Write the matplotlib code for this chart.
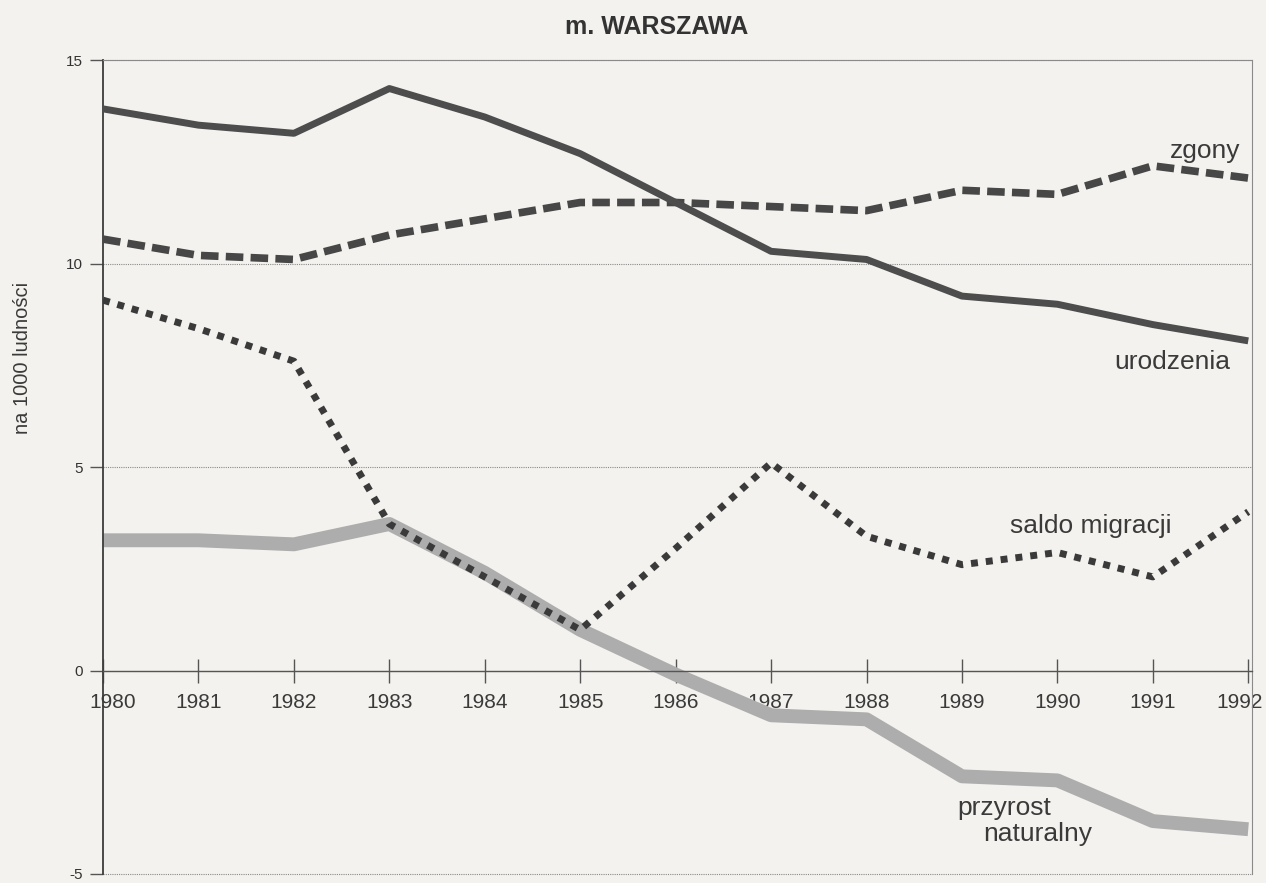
import numpy as np
import matplotlib
matplotlib.use('Agg')
import matplotlib.pyplot as plt
import matplotlib.transforms as mtransforms

plt.rcParams['font.family'] = ['Liberation Sans', 'DejaVu Sans']

years = [1980, 1981, 1982, 1983, 1984, 1985, 1986, 1987, 1988, 1989, 1990, 1991, 1992]
urodzenia = [13.8, 13.4, 13.2, 14.3, 13.6, 12.7, 11.5, 10.3, 10.1, 9.2, 9.0, 8.5, 8.1]
zgony = [10.6, 10.2, 10.1, 10.7, 11.1, 11.5, 11.5, 11.4, 11.3, 11.8, 11.7, 12.4, 12.1]
saldo_migracji = [9.1, 8.4, 7.6, 3.6, 2.3, 1.0, 3.0, 5.1, 3.3, 2.6, 2.9, 2.3, 3.9]
przyrost = [3.2, 3.2, 3.1, 3.6, 2.4, 1.0, -0.1, -1.1, -1.2, -2.6, -2.7, -3.7, -3.9]
y_ticks = [-5, 0, 5, 10, 15]

BG = '#f3f2ee'
INK = '#474747'
TXT = '#3a3a3a'

fig = plt.figure(figsize=(12.66, 8.83), dpi=100, facecolor=BG)
ax = fig.add_axes([0.0814, 0.0102, 0.9076, 0.9218], facecolor=BG)

# series
ax.plot(years, przyrost, color='#adadad', lw=10, solid_capstyle='butt', zorder=2)
ax.plot(years, zgony, color=INK, lw=5.5, dashes=(2.3, 0.95), dash_capstyle='butt', zorder=3)
ax.plot(years, urodzenia, color='#4d4d4d', lw=5, solid_capstyle='butt', zorder=4)
ax.plot(years, saldo_migracji, color='#3a3a3a', lw=5, dashes=(1.0, 1.15), dash_capstyle='butt', zorder=5)

ax.set_xlim(1980, 1992.04)
ax.set_ylim(-5, 15)

# frame and grid
ax.spines['left'].set_color('#3c3c3c')
ax.spines['left'].set_linewidth(1.3)
ax.spines['bottom'].set_position(('data', 0))
ax.spines['bottom'].set_color('#555555')
ax.spines['bottom'].set_linewidth(1.0)
for side in ('top', 'right'):
    ax.spines[side].set_linestyle((0, (1, 1)))
    ax.spines[side].set_color('#8a8a8a')
    ax.spines[side].set_linewidth(0.8)

ax.set_yticks(y_ticks)
ax.set_yticklabels([str(v) for v in y_ticks])
ax.yaxis.grid(True, linestyle=(0, (1, 1)), color='#8a8a8a', linewidth=0.8)
for gl in ax.get_ygridlines():
    gl.set_clip_on(False)
ax.set_axisbelow(True)
ax.tick_params(axis='y', direction='out', length=9.5, width=1.0, color='#555555',
               pad=5, labelsize=11, labelcolor='#333333')

ax.set_xticks(years)
ax.set_xticklabels([str(y) for y in years])
ax.tick_params(axis='x', direction='inout', length=17, width=1.0, color='#555555',
               pad=8, labelsize=15, labelcolor=TXT)

# first/last year labels sit slightly inside, as in the print
xlabels = ax.get_xticklabels()
xlabels[0].set_transform(xlabels[0].get_transform() +
                         mtransforms.ScaledTranslation(10 / 100, 0, fig.dpi_scale_trans))
xlabels[-1].set_transform(xlabels[-1].get_transform() +
                          mtransforms.ScaledTranslation(-9 / 100, 0, fig.dpi_scale_trans))

# title and axis label
fig.text(657 / 1266, 1 - 27 / 883, 'm. WARSZAWA', ha='center', va='center',
         fontsize=18, fontweight='bold', color='#333333')
fig.text(23 / 1266, 1 - 358 / 883, 'na 1000 ludności', rotation=90,
         ha='center', va='center', fontsize=14.5, color=TXT)

# series labels
ax.text(1991.92, 12.6, 'zgony', ha='right', va='baseline', fontsize=19, color=TXT)
ax.text(1991.81, 7.42, 'urodzenia', ha='right', va='baseline', fontsize=19, color=TXT)
ax.text(1991.2, 3.39, 'saldo migracji', ha='right', va='baseline', fontsize=19, color=TXT)
ax.text(1988.95, -3.56, 'przyrost', ha='left', va='baseline', fontsize=19, color=TXT)
ax.text(1989.22, -4.18, 'naturalny', ha='left', va='baseline', fontsize=19, color=TXT)

fig.savefig('out.png', dpi=100, facecolor=BG)
